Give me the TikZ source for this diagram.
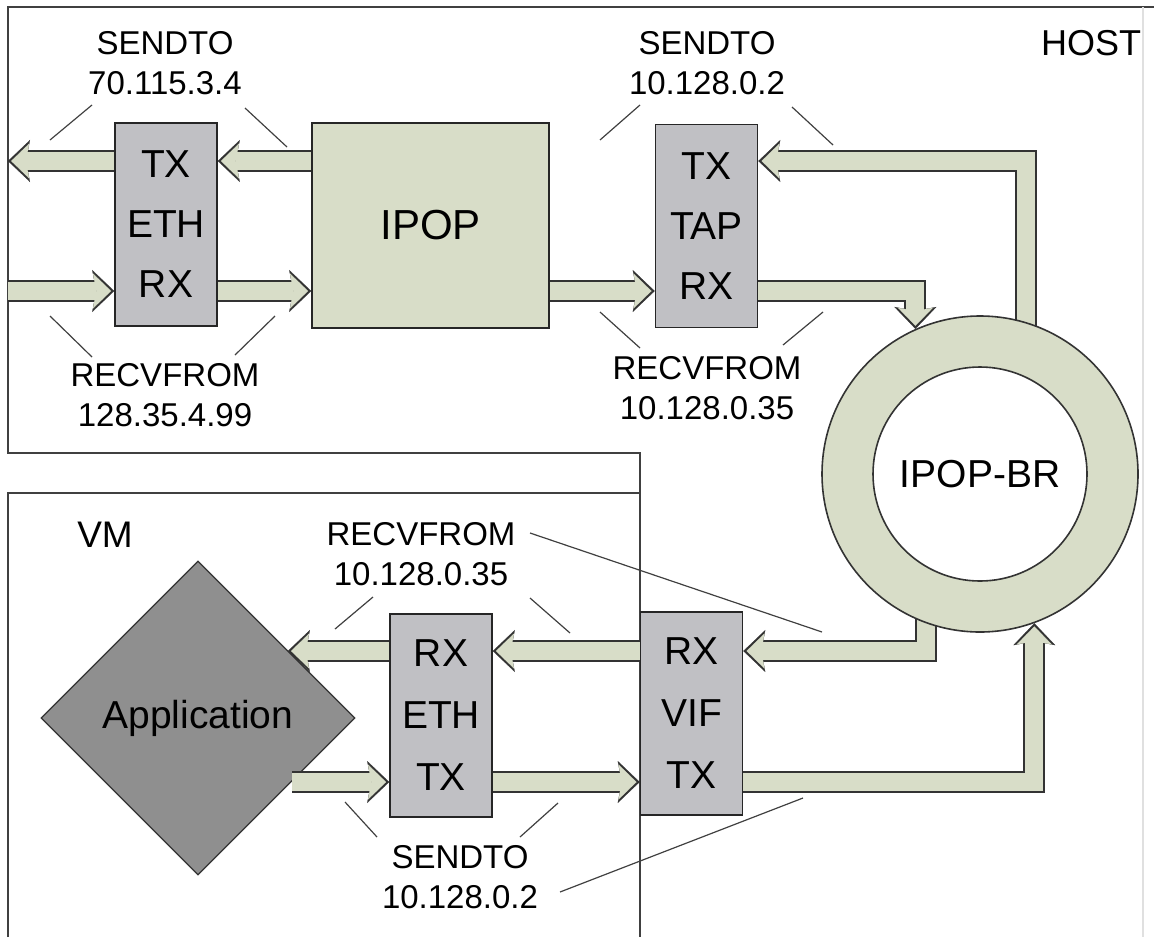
\documentclass[tikz,border=0pt]{standalone}
\usepackage{fontspec}
\setmainfont{Liberation Sans}
\usetikzlibrary{arrows.meta,shapes.geometric,backgrounds}

\definecolor{pipegreen}{RGB}{216,221,200}
\definecolor{unitgray}{RGB}{192,192,196}
\definecolor{appgray}{RGB}{143,143,143}

\begin{document}
\begin{tikzpicture}[x=0.5pt,y=-0.5pt,
	unit/.style={draw=black!85, fill=unitgray, line width=0.8pt, minimum width=51pt, minimum height=101.5pt, inner sep=0pt, align=center, font=\fontsize{19.5}{30}\selectfont},
	pipe/.style={draw=black!80, line width=11pt, -{Stealth[length=11pt,width=21pt,inset=2pt,line width=0.1pt]},
		postaction={draw=pipegreen, line width=9pt, shorten >=1.6pt, -{Stealth[length=9pt,width=17.5pt,inset=1.6pt,line width=0.1pt]}}},
	note/.style={align=center, inner sep=0pt, font=\fontsize{16.5}{20}\selectfont},
	leader/.style={draw=black!75, line width=0.6pt},
	frame/.style={draw=black!75, line width=1.2pt}]
				\useasboundingbox (0,0) rectangle (1154,937);
				
				\draw[frame] (1154,7) -- (8,7) -- (8,453) -- (640,453) -- (640,937);
				\draw[frame] (8,937) -- (8,493) -- (640,493);
				\draw[black!12, line width=0.6pt] (1143,7) -- (1143,937);
				\node[font=\fontsize{18}{20}\selectfont] (host) at (1091,43) {HOST};
				\node[font=\fontsize{18.5}{20}\selectfont] (vm) at (105,535) {VM};
				
				\coordinate (r1) at (0,161);
				\coordinate (r2) at (0,291);
				\coordinate (r3) at (0,651);
				\coordinate (r4) at (0,782);
				\coordinate (wanout) at (8,161);
				\coordinate (wanin) at (8,291);
				
				\node[unit] (ethH) at (166,224.5) {TX\\ETH\\RX};
				\node[unit, fill=pipegreen, minimum width=118.5pt, minimum height=102.5pt, font=\fontsize{21}{24}\selectfont] (ipop) at (430.5,225.5) {IPOP};
				\node[unit] (tap) at (706.5,226) {TX\\TAP\\RX};
				\node[unit, font=\fontsize{19.5}{31}\selectfont] (ethV) at (441,715.5) {RX\\ETH\\TX};
				\node[unit, font=\fontsize{19.5}{31}\selectfont] (vif) at (691.5,713.5) {RX\\VIF\\TX};
				\node[diamond, draw=black!80, fill=appgray, line width=0.6pt, minimum width=157pt, minimum height=157pt, inner sep=0pt, font=\fontsize{19.5}{24}\selectfont] (app) at (198,718) {Application};
				
				\node[circle, draw=black!80, fill=pipegreen, line width=0.8pt, minimum size=158pt, inner sep=0pt] (ring) at (980,474) {};
				\node[circle, draw=black!80, fill=white, line width=0.8pt, minimum size=107pt, inner sep=0pt, font=\fontsize{19.5}{24}\selectfont] (hole) at (ring.center) {IPOP-BR};
				
				\begin{scope}[on background layer]
					\draw[pipe] (ring.73 |- ring.center) |- (tap.east |- r1);
					\draw[pipe] (ring.250 |- ring.center) |- (vif.east |- r3);
				\end{scope}
				
				\draw[pipe] (ethH.west |- r1) -- (wanout);
				\draw[pipe] (ipop.west |- r1) -- (ethH.east |- r1);
				\draw[pipe] (wanin) -- (ethH.west |- r2);
				\draw[pipe] (ethH.east |- r2) -- (ipop.west |- r2);
				\draw[pipe] (ipop.east |- r2) -- (tap.west |- r2);
				\draw[pipe] (tap.east |- r2) -| (ring.114);
				\draw[pipe] (vif.west |- r3) -- (ethV.east |- r3);
				\draw[pipe] (ethV.west |- r3) -- (app.37 |- r3);
				\draw[pipe] (app.-34.5 |- r4) -- (ethV.west |- r4);
				\draw[pipe] (ethV.east |- r4) -- (vif.west |- r4);
				\draw[pipe] (vif.east |- r4) -| (ring.290);
				
				\node[note] (sendWan) at (165,63) {SENDTO\\70.115.3.4};
				\node[note] (recvWan) at (165,395) {RECVFROM\\128.35.4.99};
				\node[note] (sendTap) at (707,63) {SENDTO\\10.128.0.2};
				\node[note] (recvTap) at (707,388) {RECVFROM\\10.128.0.35};
				\node[note] (recvVm) at (421,554) {RECVFROM\\10.128.0.35};
				\node[note] (sendVm) at (460,877) {SENDTO\\10.128.0.2};
				
				\draw[leader] (50,140) -- (92,105);
				\draw[leader] (245,108) -- (287,147);
				\draw[leader] (50,316) -- (92,357);
				\draw[leader] (235,355) -- (275,316);
				\draw[leader] (600,140) -- (640,105);
				\draw[leader] (792,107) -- (833,145);
				\draw[leader] (600,312) -- (640,348);
				\draw[leader] (783,345) -- (823,312);
				\draw[leader] (335,629) -- (373,597);
				\draw[leader] (530,598) -- (570,633);
				\draw[leader] (530,533) -- (822,632);
				\draw[leader] (345,802) -- (377,837);
				\draw[leader] (520,837) -- (558,803);
				\draw[leader] (560,892) -- (803,798);
			\end{tikzpicture}
\end{document}
